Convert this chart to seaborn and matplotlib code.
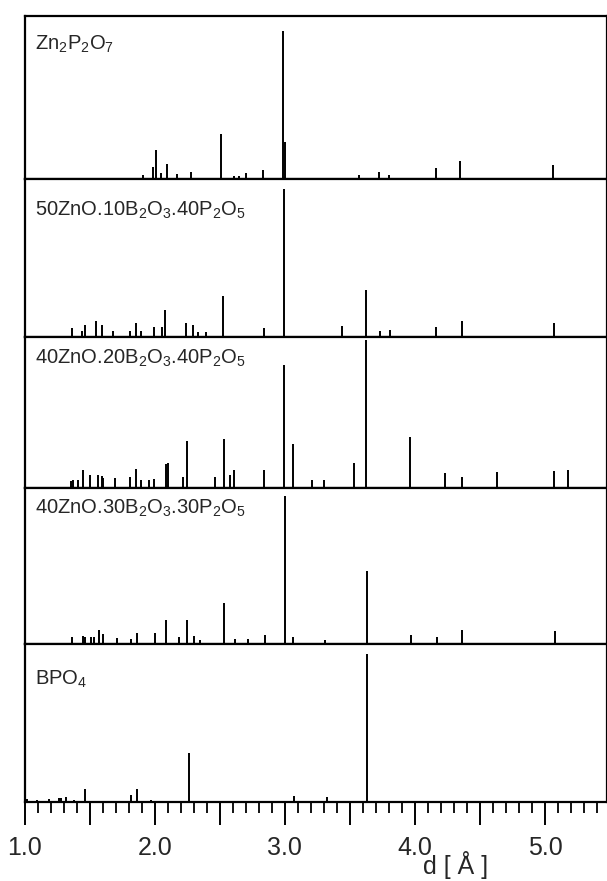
import matplotlib
matplotlib.use('Agg')
import matplotlib.pyplot as plt
from matplotlib.ticker import MultipleLocator, FuncFormatter
import seaborn as sns
import pandas as pd

# sample names (top to bottom)
names = [r'Zn$_2$P$_2$O$_7$',
         r'50ZnO.10B$_2$O$_3$.40P$_2$O$_5$',
         r'40ZnO.20B$_2$O$_3$.40P$_2$O$_5$',
         r'40ZnO.30B$_2$O$_3$.30P$_2$O$_5$',
         r'BPO$_4$']

# d spacings [A] and relative intensities
zn2p2o7_d = [1.91, 1.985, 2.01, 2.05, 2.09, 2.17, 2.28, 2.51, 2.61, 2.65, 2.70,
             2.83, 2.985, 3.0, 3.57, 3.72, 3.80, 4.16, 4.35, 5.06]
zn2p2o7_i = [2.8, 8, 19.6, 4, 9.7, 3.2, 4.4, 30, 1.6, 1.6, 4,
             5.8, 100, 25, 2.8, 4.6, 2.8, 6.9, 12, 9.3]

zbp_50_10_d = [1.36, 1.44, 1.46, 1.55, 1.59, 1.63, 1.68, 1.805, 1.855, 1.89,
               1.99, 2.055, 2.08, 2.24, 2.29, 2.335, 2.39, 2.52, 2.84, 2.99,
               3.44, 3.62, 3.73, 3.81, 4.16, 4.36, 5.07]
zbp_50_10_i = [6.2, 4, 8, 10.8, 8, 1, 4, 4, 9.4, 4,
               7, 7, 18.6, 9.4, 8, 3.7, 3.7, 27.6, 6, 100,
               7.2, 32, 4.2, 4.9, 6.8, 11.2, 9.3]

zbp_40_20_d = [1.354, 1.367, 1.405, 1.446, 1.50, 1.562, 1.592, 1.60, 1.69, 1.805,
               1.856, 1.89, 1.956, 1.995, 2.082, 2.097, 2.215, 2.249, 2.46, 2.53,
               2.575, 2.61, 2.84, 2.99, 3.06, 3.21, 3.30, 3.53, 3.62, 3.96,
               4.23, 4.36, 4.63, 5.07, 5.18]
zbp_40_20_i = [5, 5.7, 5.7, 12, 9, 9, 8, 7, 6.8, 7.5,
               13, 5.7, 5.2, 6, 16.6, 17, 7.5, 32, 7.3, 33,
               8.6, 12.5, 12.5, 83, 29.5, 5.7, 5.7, 17, 100, 34.8,
               10.2, 7.3, 10.9, 11.4, 12.5]

zbp_40_30_d = [1.362, 1.446, 1.466, 1.508, 1.533, 1.567, 1.60, 1.708, 1.815, 1.862,
               1.997, 2.087, 2.187, 2.246, 2.297, 2.349, 2.533, 2.613, 2.715, 2.85,
               3.0, 3.06, 3.31, 3.63, 3.97, 4.17, 4.36, 5.08]
zbp_40_30_i = [4.5, 5, 4.5, 4.3, 4.3, 9, 6.6, 3.9, 3.2, 6.8,
               6.8, 15.7, 4.3, 16, 5.4, 2.7, 27.7, 3.4, 3.4, 5.5,
               100, 4.5, 2.7, 48.9, 5.7, 4.5, 8.9, 8.4]

bpo4_d = [1.02, 1.09, 1.187, 1.259, 1.277, 1.318, 1.374, 1.459, 1.818, 1.862,
          1.97, 2.259, 3.07, 3.32, 3.63]
bpo4_i = [1.8, 1, 1.8, 2.5, 3, 3.6, 1.1, 8.6, 4.5, 9,
          1.1, 33, 3.9, 3.2, 100]

ylim_top = [110, 107, 102, 105, 107]
label_y = [0.89, 0.87, 0.93, 0.94, 0.84]

patterns = [(zn2p2o7_d, zn2p2o7_i), (zbp_50_10_d, zbp_50_10_i),
            (zbp_40_20_d, zbp_40_20_i), (zbp_40_30_d, zbp_40_30_i),
            (bpo4_d, bpo4_i)]

frames = []
for name, (d, i) in zip(names, patterns):
    frames.append(pd.DataFrame({'sample': name, 'd': d, 'I': i}))
df = pd.concat(frames, ignore_index=True)

sns.set_style("ticks")
plt.rcParams['font.family'] = ['Liberation Sans', 'DejaVu Sans']
plt.rcParams['mathtext.fontset'] = 'custom'
plt.rcParams['mathtext.rm'] = 'Liberation Sans'
plt.rcParams['mathtext.it'] = 'Liberation Sans:italic'

fig, axes = plt.subplots(5, 1, figsize=(6.07, 8.81), dpi=100, sharex=True,
                         gridspec_kw={'height_ratios': ylim_top, 'hspace': 0})
fig.subplots_adjust(left=0.041, right=1.0, top=0.982, bottom=0.0897)

for ax, name, top, ly in zip(axes, names, ylim_top, label_y):
    sub = df[df['sample'] == name]
    ax.vlines(sub['d'], 0, sub['I'], color='black', lw=1.4)
    ax.set_ylim(0, top)
    ax.set_yticks([])
    ax.text(0.017, ly, name, transform=ax.transAxes, fontsize=14.5,
            ha='left', va='top')
    for s in ax.spines.values():
        s.set_linewidth(1.6)
        s.set_color('black')
    ax.tick_params(axis='x', which='both', length=0, labelbottom=False)

ax = axes[-1]
ax.set_xlim(1.0, 5.477)
ax.xaxis.set_major_locator(MultipleLocator(0.5))
ax.xaxis.set_minor_locator(MultipleLocator(0.1))
ax.xaxis.set_major_formatter(FuncFormatter(lambda v, p: f'{v:.1f}' if abs(v - round(v)) < 1e-6 else ''))
ax.tick_params(axis='x', which='major', length=16.5, width=1.4, direction='out',
               labelbottom=True, labelsize=18, pad=8, color='black')
ax.tick_params(axis='x', which='minor', length=8, width=1.3, direction='out', color='black')
ax.set_xlabel('d [ Å ]', fontsize=18)
ax.xaxis.set_label_coords(0.74, -0.31)

fig.savefig('out.png', dpi=100)
